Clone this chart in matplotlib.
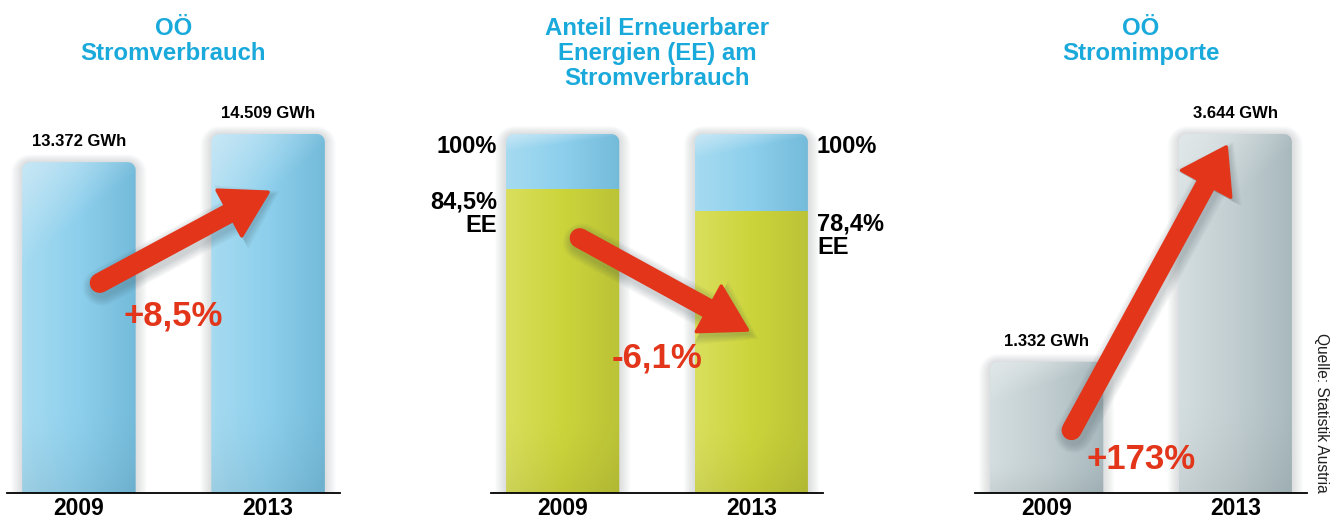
import numpy as np
import matplotlib
matplotlib.use('Agg')
import matplotlib.pyplot as plt
from matplotlib.path import Path
from matplotlib.patches import PathPatch, Polygon
from matplotlib.colors import to_rgb

# Data
years = ['2009', '2013']
consumption = [13372, 14509]          # GWh
consumption_labels = ['13.372 GWh', '14.509 GWh']
ee_share = [84.5, 78.4]               # % of consumption
ee_total = [100, 100]
ee_labels = ['84,5%\nEE', '78,4%\nEE']
imports = [1332, 3644]                # GWh
import_labels = ['1.332 GWh', '3.644 GWh']
changes = ['+8,5%', '-6,1%', '+173%']
titles = ['OÖ\nStromverbrauch',
          'Anteil Erneuerbarer\nEnergien (EE) am\nStromverbrauch',
          'OÖ\nStromimporte']
source = 'Quelle: Statistik Austria'

# Style
W, H = 1343, 517
TITLE_COLOR = '#1aa9db'
RED = '#e2351a'
BLUE = ['#a6dbf1', '#8dcfec', '#74bbda']
GREEN = ['#d9df5c', '#ccd43b', '#bbc337']
GREY = ['#d4dee0', '#c1cdd0', '#a8b9be']
HIGHLIGHT = {'blue': '#cde9f6', 'grey': '#e3e9ea'}
BOLD = 'Liberation Sans'

plt.rcParams['font.family'] = ['Liberation Sans', 'DejaVu Sans']

fig = plt.figure(figsize=(W / 100, H / 100), dpi=100)
fig.patch.set_facecolor('white')


def add_panel(x0, x1, vmax, ytop=100, ybase=493, bar_px=359):
    ax = fig.add_axes([x0 / W, 1 - ybase / H, (x1 - x0) / W, (ybase - ytop) / H])
    ax.set_xlim(-0.38, 1.38)
    ax.set_ylim(0, vmax * (ybase - ytop) / bar_px)
    ax.axis('off')
    ax.axhline(0, color='black', lw=1.3, clip_on=False, zorder=5)
    return ax


def px_units(ax):
    """Data units per pixel in x and y."""
    x0, x1 = ax.get_xlim()
    y0, y1 = ax.get_ylim()
    return (x1 - x0) / ax.bbox.width, (y1 - y0) / ax.bbox.height


def rounded_top(ax, x0, x1, y0, y1, r=8):
    ux, uy = px_units(ax)
    rx, ry = r * ux, r * uy
    t = np.linspace(0, np.pi / 2, 14)
    right = [(x1 - rx + rx * np.cos(a), y1 - ry + ry * np.sin(a)) for a in t]
    left = [(x0 + rx + rx * np.cos(a), y1 - ry + ry * np.sin(a)) for a in t + np.pi / 2]
    verts = [(x0, y0), (x1, y0)] + right + left + [(x0, y0)]
    return Path(verts, closed=True)


def gradient(stops, highlight=None, darken=0.06, nx=80, ny=200):
    u = np.linspace(0, 1, nx)
    v = np.linspace(0, 1, ny)[:, None]
    cols = np.array([to_rgb(c) for c in stops])
    pos = np.linspace(0, 1, len(stops))
    row = np.stack([np.interp(u, pos, cols[:, k]) for k in range(3)], axis=-1)
    img = np.repeat(row[None, :, :], ny, axis=0)
    if highlight is not None:
        hc = np.array(to_rgb(highlight))
        w = np.clip(1 - (v * 3.2 + u[None, :] * 0.9), 0, 1)[..., None] * 0.85
        img = img * (1 - w) + hc * w
    dk = (np.clip((v - 0.75) / 0.25, 0, 1) ** 1.5)[..., None] * darken
    img = img * (1 - dk)
    return np.clip(img, 0, 1)


def draw_bar(ax, xc, top, parts, width=0.6):
    """parts: list of (y0, y1, image) drawn inside a rounded-top bar."""
    x0, x1 = xc - width / 2, xc + width / 2
    ux, uy = px_units(ax)
    # soft shadow
    for k in range(1, 12):
        sp = rounded_top(ax, x0 - k * ux, x1 + k * ux, 0, top + k * uy * 0.7, r=8 + k)
        ax.add_patch(PathPatch(sp, facecolor='#5f7480', edgecolor='none',
                               alpha=0.018, zorder=1))
    clip = PathPatch(rounded_top(ax, x0, x1, 0, top), facecolor='none',
                     edgecolor='none', zorder=2)
    ax.add_patch(clip)
    for y0, y1, img in parts:
        im = ax.imshow(img, extent=(x0, x1, y0, y1), aspect='auto',
                       interpolation='bilinear', origin='upper', zorder=2)
        im.set_clip_path(clip)


def draw_arrow(ax, tail, tip, shaft=20, head_len=44, head_w=52):
    T = ax.transData
    p0 = T.transform(tail)
    p1 = T.transform(tip)
    d = (p1 - p0) / np.hypot(*(p1 - p0))
    n = np.array([-d[1], d[0]])
    base = p1 - d * head_len
    inv = T.inverted()
    # blurred shadow
    off = np.array([2, -4])
    for k in range(1, 8):
        sl = inv.transform([p0 + off, base + off])
        ax.plot(sl[:, 0], sl[:, 1], color='#33444c', lw=(shaft + 2.5 * k) * 0.72,
                alpha=0.035, solid_capstyle='round', zorder=3)
        hp = inv.transform([p1 + off + d * k * 1.5, base + off + n * (head_w / 2 + k * 1.5),
                            base + off - n * (head_w / 2 + k * 1.5)])
        ax.add_patch(Polygon(hp, closed=True, facecolor='#33444c', edgecolor='none',
                             alpha=0.035, zorder=3))
    sl = inv.transform([p0, base + d * 3])
    ax.plot(sl[:, 0], sl[:, 1], color=RED, lw=shaft * 0.72,
            solid_capstyle='round', zorder=4)
    hp = inv.transform([p1, base + n * head_w / 2, base - n * head_w / 2])
    ax.add_patch(Polygon(hp, closed=True, facecolor=RED, edgecolor=RED,
                         lw=2.5, joinstyle='round', zorder=4))


def year_labels(ax):
    for i, y in enumerate(years):
        ax.annotate(y, xy=(i, 0), xytext=(0, -15.5), textcoords='offset points',
                    ha='center', va='baseline', fontsize=16.5, fontweight='bold',
                    family=BOLD, annotation_clip=False)


def title(ax, text):
    xc = ax.transData.transform((0.5, 0))[0]
    fig.text(xc / W, 1 - 17 / H, text, ha='center', va='top', fontsize=17.3,
             fontweight='bold', color=TITLE_COLOR, linespacing=1.12)


xs = np.arange(len(years))

# Panel 1: consumption
ax1 = add_panel(7, 340, max(consumption))
for i, v in enumerate(consumption):
    draw_bar(ax1, xs[i], v, [(0, v, gradient(BLUE, HIGHLIGHT['blue']))])
    ax1.annotate(consumption_labels[i], xy=(xs[i], v), xytext=(0, 11.5),
                 textcoords='offset points', ha='center', va='baseline',
                 fontsize=12, fontweight='bold', family=BOLD)
m = max(consumption)
draw_arrow(ax1, (0.11, 0.585 * m), (1.0, 0.838 * m))
ax1.text(0.5, 0.493 * m, changes[0], ha='center', va='center', fontsize=25,
         fontweight='bold', color=RED, zorder=6)
year_labels(ax1)
title(ax1, titles[0])

# Panel 2: share of renewables
ax2 = add_panel(491, 823, max(ee_total))
for i, v in enumerate(ee_share):
    draw_bar(ax2, xs[i], ee_total[i],
             [(v, ee_total[i], gradient(BLUE, HIGHLIGHT['blue'], darken=0)),
              (0, v, gradient(GREEN, None))])
    side = -1 if i == 0 else 1
    ha = 'right' if i == 0 else 'left'
    ax2.annotate(f'{ee_total[i]}%', xy=(xs[i] + side * 0.3, ee_total[i]),
                 xytext=(side * 6.5, -0.5), textcoords='offset points', ha=ha,
                 va='top', fontsize=17, fontweight='bold', linespacing=1.02)
    ax2.annotate(ee_labels[i], xy=(xs[i] + side * 0.3, v),
                 xytext=(side * 6.5, -0.5), textcoords='offset points', ha=ha,
                 va='top', fontsize=17, fontweight='bold', linespacing=1.02)
draw_arrow(ax2, (0.09, 71.0), (0.979, 45.4))
ax2.text(0.5, 37.6, changes[1], ha='center', va='center', fontsize=25,
         fontweight='bold', color=RED, zorder=6)
year_labels(ax2)
title(ax2, titles[1])

# Panel 3: imports
ax3 = add_panel(975, 1307, max(imports))
for i, v in enumerate(imports):
    draw_bar(ax3, xs[i], v, [(0, v, gradient(GREY, HIGHLIGHT['grey']))])
    ax3.annotate(import_labels[i], xy=(xs[i], v), xytext=(0, 11.5),
                 textcoords='offset points', ha='center', va='baseline',
                 fontsize=12, fontweight='bold', family=BOLD)
m = max(imports)
draw_arrow(ax3, (0.132, 0.175 * m), (0.952, 0.964 * m), head_len=42, head_w=56)
ax3.text(0.5, 0.092 * m, changes[2], ha='center', va='center', fontsize=25,
         fontweight='bold', color=RED, zorder=6)
year_labels(ax3)
title(ax3, titles[2])

fig.text(1322 / W, 1 - 333 / H, source, rotation=270, ha='center', va='top',
         fontsize=11.2, color='#222222')

fig.savefig('out.png', dpi=100, facecolor='white')
